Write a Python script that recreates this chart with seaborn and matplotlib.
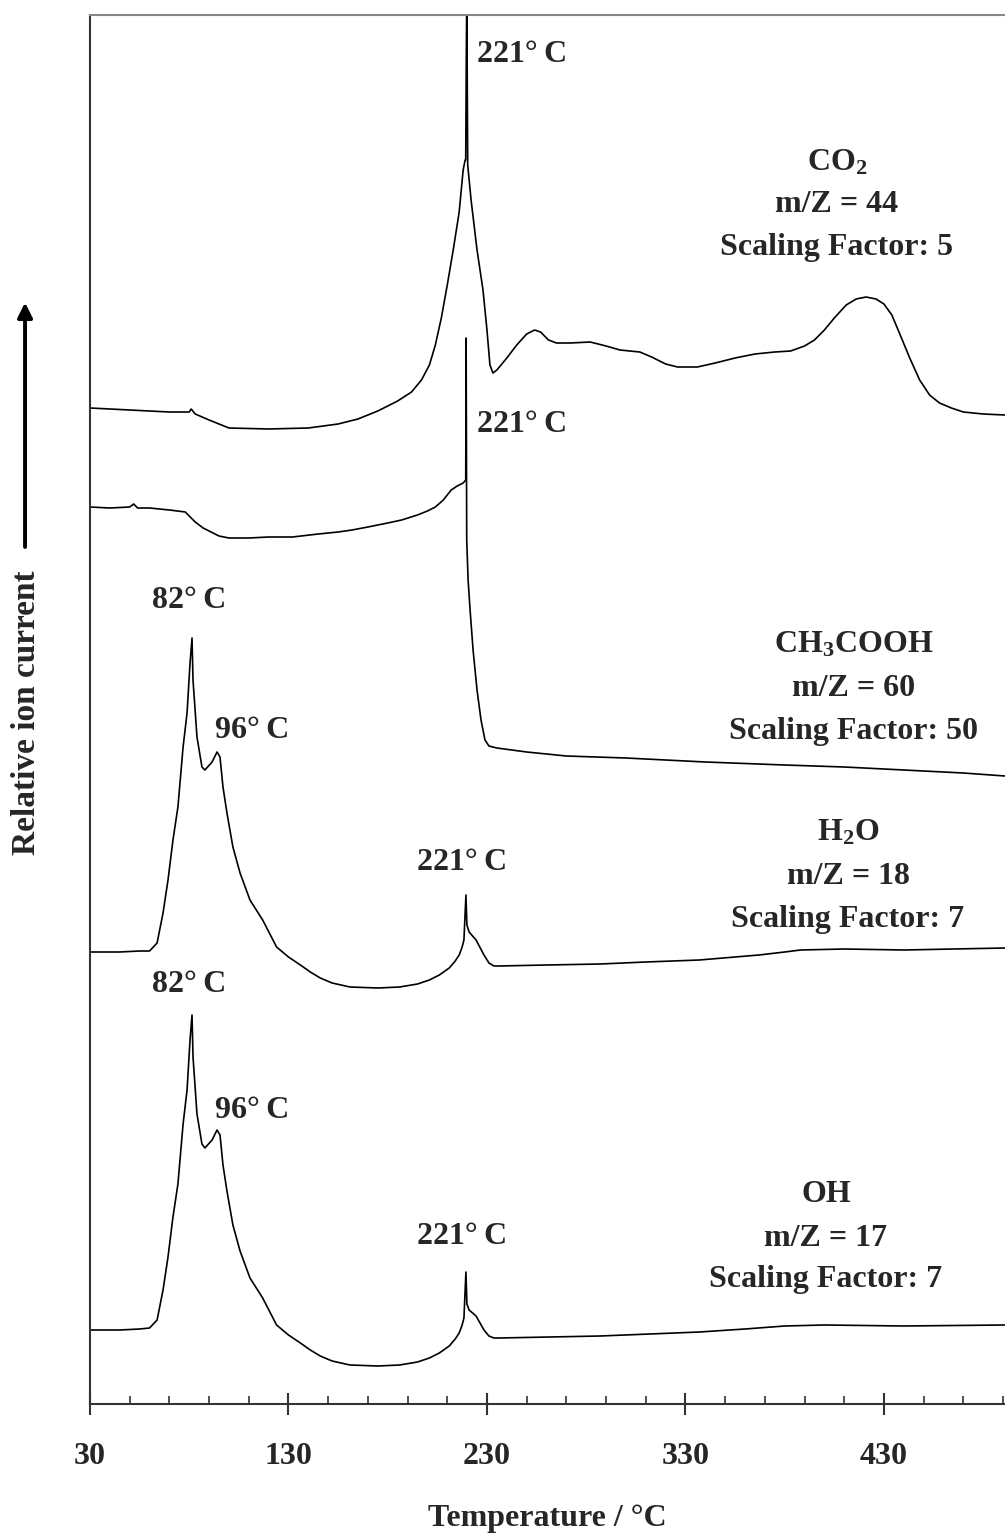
import matplotlib
matplotlib.use("Agg")
import matplotlib.pyplot as plt
import seaborn as sns
import numpy as np

# ---------------- data (temperature in deg C, relative ion current in arbitrary units) -------------
co2_T = [30, 50, 70, 80, 81, 83, 90, 100, 120, 140, 155, 165, 175, 185, 192, 197, 201, 204, 207,
         210, 213, 216, 218, 219, 219.3, 219.6, 219.8, 220.0, 220.3, 222, 225, 228, 230, 231.5,
         233, 235, 240, 245, 250, 254, 257, 261, 265, 272, 282, 290, 297, 307, 313, 320, 326,
         336, 345, 355, 365, 375, 383, 390, 395, 400, 405, 411, 416, 421, 426, 430, 434, 438,
         443, 448, 453, 458, 464, 470, 480, 491]
co2_I = [996, 994, 992, 992, 995, 990, 984, 976, 975, 976, 980, 985, 993, 1003, 1012, 1024, 1039,
         1059, 1086, 1119, 1154, 1192, 1234, 1244, 1244, 1351, 1400, 1349, 1239, 1204, 1154, 1114,
         1074, 1039, 1031, 1034, 1046, 1059, 1070, 1074, 1072, 1064, 1061, 1061, 1062, 1058, 1054,
         1052, 1047, 1040, 1037, 1037, 1041, 1046, 1050, 1052, 1053, 1058, 1064, 1074, 1086, 1099,
         1105, 1107, 1105, 1100, 1089, 1070, 1046, 1024, 1009, 1001, 996, 992, 990, 989]

ac_T = [30, 40, 50, 52, 54, 60, 70, 78, 80, 83, 87, 91, 95, 100, 110, 120, 132, 145, 155, 162,
        170, 180, 187, 195, 200, 204, 208, 212, 215, 218, 219.3, 219.5, 219.8, 220.5, 221.5, 223,
        225, 227, 229, 231, 235, 250, 270, 300, 340, 380, 410, 440, 470, 491]
ac_I = [897, 896, 897, 900, 896, 896, 894, 892, 888, 882, 876, 872, 868, 866, 866, 867, 867, 870,
        872, 874, 877, 881, 884, 889, 893, 897, 904, 914, 918, 921, 924, 1066, 864, 824, 794, 754,
        714, 684, 664, 658, 656, 652, 648, 646, 642, 639, 637, 634, 631, 628]

h2o_T = [30, 45, 55, 60, 63.8, 66.8, 69.3, 71.8, 74.3, 76.9, 78.9, 80.4, 81.4, 81.9, 83.9, 86.4,
         87.9, 91.5, 94, 95.5, 97, 99, 102, 105.6, 110.6, 117, 124, 130, 136, 141, 146, 152, 161,
         175, 186, 195, 201, 206, 211, 214, 216, 217.5, 218.4, 219.4, 219.9, 221, 224.5, 228.5,
         231, 233.5, 236, 260, 287, 310, 337, 355, 367, 380, 388, 410, 440, 465, 491]
h2o_I = [452, 452, 453, 453, 461, 491, 524, 564, 597, 657, 691, 741, 766, 724, 667, 637, 634, 642,
         652, 647, 617, 591, 557, 531, 504, 484, 457, 447, 439, 432, 426, 421, 417, 416, 417, 420,
         424, 429, 436, 443, 449, 457, 464, 509, 479, 472, 464, 449, 441, 438, 438, 439, 440, 442,
         444, 447, 449, 452, 454, 455, 454, 455, 456]

oh_T = [30, 45, 55, 60, 63.8, 66.8, 69.3, 71.8, 74.3, 76.9, 78.9, 80.4, 81.4, 81.9, 83.9, 86.4,
        87.9, 91.5, 94, 95.5, 97, 99, 102, 105.6, 110.6, 117, 124, 130, 136, 141, 146, 152, 161,
        175, 186, 195, 201, 206, 211, 214, 216, 217.5, 218.4, 219.4, 219.9, 221, 224.5, 228.5,
        231, 233.5, 236, 287, 337, 360, 380, 400, 440, 491]
oh_I = [74, 74, 75, 76, 84, 114, 147, 187, 220, 280, 314, 364, 389, 347, 290, 260, 256, 264, 274,
        269, 239, 213, 179, 153, 126, 106, 79, 69, 61, 54, 48, 43, 39, 38, 39, 42, 46, 51, 58, 65,
        71, 79, 86, 132, 100, 94, 88, 74, 68, 66, 66, 68, 72, 75, 78, 79, 78, 79]

major_ticks = [30, 130, 230, 330, 430]
minor_ticks = [50, 70, 90, 110, 150, 170, 190, 210, 250, 270, 290, 310, 350, 370, 390, 410, 450, 470, 490]

peak_labels = [("221°\u2009C", 247.6, 1349), ("221°\u2009C", 247.6, 979), ("82°\u2009C", 79.9, 804),
               ("96°\u2009C", 111.6, 673), ("221°\u2009C", 217.4, 542), ("82°\u2009C", 79.9, 419),
               ("96°\u2009C", 111.6, 294), ("221°\u2009C", 217.4, 167)]

species_blocks = [
    (["$\\mathbf{CO_2}$", "m/Z = 44", "Scaling Factor: 5"], 406.3, [1241, 1199, 1157]),
    (["$\\mathbf{CH_3COOH}$", "m/Z = 60", "Scaling Factor: 50"], 414.9, [759, 715, 673]),
    (["$\\mathbf{H_2O}$", "m/Z = 18", "Scaling Factor: 7"], 411.9, [571, 527, 484]),
    (["OH", "m/Z = 17", "Scaling Factor: 7"], 400.8, [209, 166, 124]),
]

# ---------------- style ----------------
sns.set_style("white")
plt.rcParams['font.family'] = ['Liberation Serif', 'DejaVu Serif']
plt.rcParams['font.weight'] = 'bold'
plt.rcParams['mathtext.fontset'] = 'custom'
plt.rcParams['mathtext.rm'] = 'Liberation Serif:bold'
plt.rcParams['mathtext.bf'] = 'Liberation Serif:bold'
plt.rcParams['mathtext.it'] = 'Liberation Serif:bold'

FS = 23
W, H = 1005, 1538
fig = plt.figure(figsize=(W / 100, H / 100), dpi=100)
ax = fig.add_axes([90 / W, (H - 1404) / H, (W - 90) / W, (1404 - 15) / H])

for T, I in [(co2_T, co2_I), (ac_T, ac_I), (h2o_T, h2o_I), (oh_T, oh_I)]:
    sns.lineplot(x=T, y=I, ax=ax, color='black', lw=1.2, estimator=None, sort=False)

ax.set_xlim(30, 491)
ax.set_ylim(0, 1389)
ax.set_yticks([])
ax.set_xticks(major_ticks)
ax.set_xticks(minor_ticks, minor=True)
ax.set_xticklabels([str(t) for t in major_ticks], fontsize=FS, fontweight='bold')
ax.tick_params(axis='x', which='both', bottom=True)
ax.tick_params(axis='x', which='major', direction='inout', length=16, width=1.5,
               color='#333333', pad=19)
ax.tick_params(axis='x', which='minor', direction='in', length=6, width=1.2, color='#333333')

for s in ['left', 'bottom']:
    ax.spines[s].set_color('#333333')
    ax.spines[s].set_linewidth(1.5)
ax.spines['top'].set_color('#888888')
ax.spines['top'].set_linewidth(1.5)
ax.spines['right'].set_visible(False)

ax.set_xlabel("Temperature / °C", fontsize=FS, fontweight='bold', labelpad=24)
ax.set_ylabel("Relative ion current", fontsize=24, fontweight='bold')
ax.yaxis.set_label_coords(-0.052, 0.498)
ax.annotate("", xy=(-0.071, 0.795), xytext=(-0.071, 0.615), xycoords='axes fraction',
            arrowprops=dict(arrowstyle='-|>', lw=2.8, color='black', mutation_scale=22),
            annotation_clip=False)

for txt, x, y in peak_labels:
    ax.text(x, y, txt, ha='center', va='center', fontsize=FS, fontweight='bold')

for lines, x, ys in species_blocks:
    for txt, y in zip(lines, ys):
        ax.text(x, y, txt, ha='center', va='center', fontsize=FS, fontweight='bold')

fig.savefig("out.png", dpi=100)
